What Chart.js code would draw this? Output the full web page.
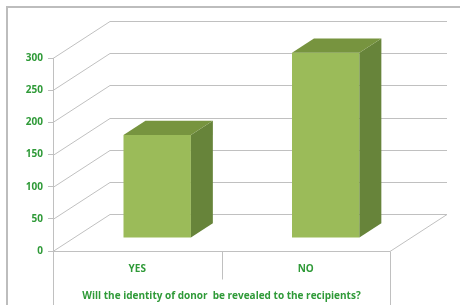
<!DOCTYPE html>
<html>
<head>
<meta charset="utf-8">
<script src="https://cdn.jsdelivr.net/npm/chart.js@4.4.0/dist/chart.umd.min.js"></script>
<style>
  html, body { margin: 0; padding: 0; background: #fff; }
  canvas { display: block; }
</style>
</head>
<body>
<canvas id="chart" width="460" height="305"></canvas>
<script>
// données
const categories = ['YES', 'NO'];
const answers    = [160, 288];
const yTicks     = [0, 50, 100, 150, 200, 250, 300];
const axisTitle  = 'Will the identity of donor  be revealed to the recipients?';

// pseudo 3D : vecteur de profondeur (avant -> mur du fond)
const DX = 57, DY = -37;
const BX = DX * 0.35, BY = DY * 0.35;      // décalage de la face avant des barres
const SX = DX * 0.385, SY = DY * 0.385;    // épaisseur des barres

const GREEN = '#2f9a38';
const LINE  = '#c0c0c0';

const walls = {
  id: 'walls',
  beforeDatasetsDraw(chart) {
    const { ctx, chartArea: a, scales: { y } } = chart;
    ctx.save();
    // cadre extérieur
    ctx.strokeStyle = '#bdbdbd';
    ctx.lineWidth = 2;
    ctx.strokeRect(7, 7, 480, 330);

    ctx.strokeStyle = LINE;
    ctx.lineWidth = 1;
    ctx.beginPath();
    // lignes de grille : mur gauche + mur du fond
    yTicks.forEach(v => {
      const py = Math.round(y.getPixelForValue(v)) + 0.5;
      ctx.moveTo(a.left, py);
      ctx.lineTo(a.left + DX, py + DY);
      ctx.lineTo(a.right + DX, py + DY);
    });
    // sol
    const fy = Math.round(a.bottom) + 0.5;
    ctx.moveTo(a.left, fy);
    ctx.lineTo(a.right, fy);
    ctx.lineTo(a.right + DX, fy + DY);
    // boîte des catégories
    const lx = Math.round(a.left) + 0.5, rx = Math.round(a.right) + 0.5;
    ctx.moveTo(lx, fy); ctx.lineTo(lx, chart.height);
    ctx.moveTo(rx, fy); ctx.lineTo(rx, chart.height);
    const mid = Math.round((a.left + a.right) / 2) + 0.5;
    ctx.moveTo(mid, fy); ctx.lineTo(mid, fy + 28);
    ctx.stroke();
    ctx.restore();

    // barres décalées vers le fond
    ctx.save();
    ctx.translate(BX, BY);
  },
  afterDatasetsDraw(chart) {
    const ctx = chart.ctx;
    ctx.restore();
    chart.getDatasetMeta(0).data.forEach(bar => {
      const l = bar.x - bar.width / 2 + BX;
      const r = bar.x + bar.width / 2 + BX;
      const t = bar.y + BY;
      const b = bar.base + BY;
      // côté
      ctx.fillStyle = '#67843a';
      ctx.beginPath();
      ctx.moveTo(r, t);
      ctx.lineTo(r + SX, t + SY);
      ctx.lineTo(r + SX, b + SY);
      ctx.lineTo(r, b);
      ctx.closePath();
      ctx.fill();
      // dessus
      ctx.fillStyle = '#77943f';
      ctx.beginPath();
      ctx.moveTo(l, t);
      ctx.lineTo(l + SX, t + SY);
      ctx.lineTo(r + SX, t + SY);
      ctx.lineTo(r, t);
      ctx.closePath();
      ctx.fill();
    });
  }
};

new Chart(document.getElementById('chart'), {
  type: 'bar',
  data: {
    labels: categories,
    datasets: [{
      data: answers,
      backgroundColor: '#9bbb59',
      borderWidth: 0,
      barPercentage: 0.4,
      categoryPercentage: 1,
      clip: false
    }]
  },
  options: {
    responsive: false,
    animation: false,
    layout: { padding: { top: 58, right: 70, left: 0, bottom: 0 } },
    plugins: { legend: { display: false }, tooltip: { enabled: false } },
    scales: {
      x: {
        afterFit: s => { s.height = 54; },
        grid: { display: false, drawTicks: false },
        border: { display: false },
        ticks: { color: GREEN, font: { family: 'Open Sans', size: 10, weight: 'bold' }, padding: 12 },
        title: {
          display: true,
          text: axisTitle,
          color: GREEN,
          font: { family: 'Open Sans', size: 10, weight: 'bold' },
          padding: { top: 4, bottom: 3 }
        }
      },
      y: {
        min: 0,
        max: 300,
        afterFit: s => { s.width = 53; },
        afterBuildTicks: s => { s.ticks = yTicks.map(v => ({ value: v })); },
        grid: { drawOnChartArea: false, drawTicks: true, tickLength: 5, color: LINE },
        border: { display: true, color: LINE },
        ticks: { color: GREEN, font: { family: 'Open Sans', size: 10, weight: 'bold' }, padding: 5 }
      }
    }
  },
  plugins: [walls]
});
</script>
</body>
</html>
